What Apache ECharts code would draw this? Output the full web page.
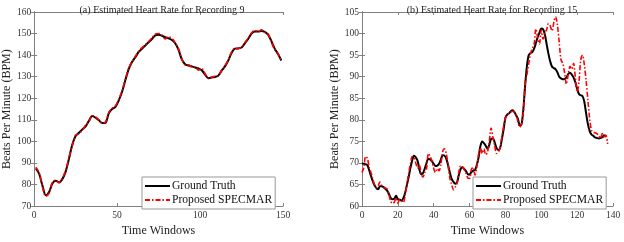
<!DOCTYPE html>
<html>
<head>
<meta charset="utf-8">
<script src="https://cdn.jsdelivr.net/npm/echarts@6/dist/echarts.min.js"></script>
<style>html,body{margin:0;padding:0;background:#fff;}#c{width:624px;height:242px;}</style>
</head>
<body>
<div id="c"></div>
<script>
// ---- Recording 9 (left) ----
const timeA = [1,3,5,7,9,11,13,15,17,19,21,23,25,27,29,31,33,35,37,39,41,43,45,47,49,51,53,55,57,59,61,63,65,67,69,71,73,75,77,79,81,83,85,87,89,91,93,95,97,99,101,103,105,107,109,111,113,115,117,119,121,123,125,127,129,131,133,135,137,139,141,143,145,147,149];
const truthA = [87.5,85,79.5,75,76.5,80.5,81.8,81,82.5,86,92,98.5,102.5,104,105.5,107,109.5,111.8,111,109.8,108.5,108.6,113,115,116,119,123,128.5,133.5,136.8,139,141.5,143,144.5,146,147.5,149.2,149.5,149,148.3,147.8,147,145.5,142.5,138,135.8,135.2,134.8,134.3,133.8,133,131,129.3,129.6,129.9,130.5,132.8,134.8,137.5,141,143,143.1,143.5,145.5,147.5,150,151,151,151.2,150.8,149.5,146.5,143,140.5,137.5];
const estA = [88,85.5,79,74.5,76,81,82,80.8,83,86.5,92.5,98,103,103.5,105.2,107.5,109,112,111.3,110,108.5,109,113.5,115.3,116.5,119.5,123.5,128.8,134,137,139.5,141.8,143.5,144.8,146.3,148,149.8,150,149.3,147.5,148.5,147.8,145.8,143,138.3,135.5,135.5,134.5,134.6,133,133.8,131.5,129.2,129.8,130.2,130.3,133,135,137.8,141.4,143.2,143,143.8,145.8,147.8,150.3,151.5,150.8,151.8,150.6,149.8,146,142.5,140.8,137];

// ---- Recording 15 (right) ----
const truthB = [69.9,69.8,69.7,69.5,68.3,67,65.8,64.8,64.2,63.9,64.6,64.6,64.4,64,63.6,62.8,61.9,61.6,61.7,62.4,61.6,61.5,61.3,61.8,63,64.8,66.7,68.8,70.6,71.7,71.3,70.5,68.5,67.4,67.6,68.7,70,71,70.8,70.4,69.8,69.3,69.4,69.8,70.8,71.8,71.7,71,69.5,67.8,66.3,65.6,65.2,65.5,67.2,68.6,69,68.6,68.1,67.4,67.3,67.9,68.2,68.3,69.5,71.2,73.8,75,74.6,74,73.3,74.2,75.6,75.7,74.8,73.5,73,73.4,75.5,77.8,80.5,81.2,81.5,82,82.2,81.8,81,80.2,78.7,79,82.5,88,92.5,95,95.5,95.7,96.5,97.8,99.2,100.2,101.2,101,99.8,97.5,95.3,93.5,92.3,92,91.7,91,90,89.6,89.4,89.5,89.8,90.6,90.9,90.5,89.8,88.7,87.2,86,85.7,85.5,84.2,81.5,79,77.4,76.6,76.3,75.9,75.8,75.7,75.8,76,76.4,76.1];
const estB = [67.8,68.9,71.5,71.1,69,67.8,66.3,65,64.3,64.7,65.6,64.8,64.4,64.2,64,62.8,61.1,60.6,60.9,61.9,60.7,61.5,61.3,60.8,62.3,65,67.5,69.8,71.5,71.2,70,68.8,69.5,67.5,66.7,67.8,68.7,72.2,71.5,70.5,68.7,67.8,68.7,68.2,69.7,72.6,73.3,72.2,69.5,66.5,65,63.8,64.4,65.2,67.8,69.3,69.2,68.5,67.6,66.5,66.4,68.5,69,67.2,69,72,73.5,72.2,73.3,71.9,72.5,75,78.1,76,74.1,72.2,72.5,73.5,76,78.5,80.5,81,81.5,81.8,82,81.8,81.2,79.5,78.3,79,82,88.3,90.5,93,95.4,96.5,97.5,101.1,99.1,97.6,100.8,98.7,100.2,100.9,102.3,101.8,100.6,102.6,103.9,102,98,93.9,93.1,90.9,88.3,90.5,92.4,91.7,93.1,89.8,86.5,88.7,93.9,95,92.8,89.1,84.6,80.2,77.6,77.1,77,76.8,76.4,75.7,76.8,75.7,76.5,74.4];

const yTicksA = {min:70, max:160, interval:10};
const xTicksA = {min:0, max:150, interval:50};
const yTicksB = {min:60, max:105, interval:5};
const xTicksB = {min:0, max:140, interval:20};

const FONT = 'Liberation Serif';
const pairs = (xs, ys) => ys.map((v, i) => [xs[i], v]);
const idx = (ys) => ys.map((v, i) => [i, v]);

const axisLine = {show:true, lineStyle:{color:'#808080', width:1}};
const tick = {show:true, inside:true, length:3, lineStyle:{color:'#808080'}};
const lbl = {color:'#333', fontFamily:FONT, fontSize:9.5};

function xAx(grid, t) {
  return [
    {type:'value', gridIndex:grid, position:'bottom', min:t.min, max:t.max, interval:t.interval,
     axisLine, axisTick:tick, axisLabel:Object.assign({margin:4}, lbl), splitLine:{show:false},
     name:'Time Windows', nameLocation:'middle', nameGap:15,
     nameTextStyle:{fontFamily:FONT, fontSize:12, color:'#222'}},
    {type:'value', gridIndex:grid, position:'top', min:t.min, max:t.max, interval:t.interval,
     axisLine, axisTick:tick, axisLabel:{show:false}, splitLine:{show:false}}
  ];
}
function yAx(grid, t, gap) {
  return [
    {type:'value', gridIndex:grid, position:'left', min:t.min, max:t.max, interval:t.interval,
     axisLine, axisTick:tick, axisLabel:Object.assign({margin:3}, lbl), splitLine:{show:false},
     name:'Beats Per Minute (BPM)', nameLocation:'middle', nameGap:gap,
     nameTextStyle:{fontFamily:FONT, fontSize:12, color:'#222'}},
    {type:'value', gridIndex:grid, position:'right', min:t.min, max:t.max, interval:t.interval,
     axisLine, axisTick:tick, axisLabel:{show:false}, splitLine:{show:false}}
  ];
}

const truthStyle = {color:'#000', width:2, type:'solid'};
const estStyle = {color:'#ff0000', width:1.6, type:[5,2,1.5,2]};

const legendCommon = {
  orient:'vertical', itemWidth:25, itemHeight:12, itemGap:2,
  backgroundColor:'#fff', borderColor:'#999', borderWidth:1, borderRadius:0,
  padding:[3,3,3,2],
  itemStyle:{color:'rgba(0,0,0,0)', borderColor:'rgba(0,0,0,0)', borderWidth:0},
  textStyle:{fontFamily:FONT, fontSize:11.6, color:'#111', padding:[0,0,0,-3]},
  data:['Ground Truth', 'Proposed SPECMAR']
};

const chart = echarts.init(document.getElementById('c'), null, {renderer:'canvas'});
chart.setOption({
  animation:false,
  backgroundColor:'#fff',
  title:[
    {text:'(a) Estimated Heart Rate for Recording 9', left:157, top:0, textAlign:'center',
     textStyle:{fontFamily:FONT, fontSize:10, fontWeight:'normal', color:'#222'}},
    {text:'(b) Estimated Heart Rate for Recording 15', left:487, top:0, textAlign:'center',
     textStyle:{fontFamily:FONT, fontSize:10, fontWeight:'normal', color:'#222'}}
  ],
  legend:[
    Object.assign({left:142, top:177}, legendCommon),
    Object.assign({left:473, top:177}, legendCommon)
  ],
  grid:[
    {left:31, top:12, width:252, height:202},
    {left:362, top:12, width:251, height:202}
  ],
  xAxis:[...xAx(0, xTicksA), ...xAx(1, xTicksB)],
  yAxis:[...yAx(0, yTicksA, 18), ...yAx(1, yTicksB, 20)],
  series:[
    {name:'Ground Truth', type:'line', xAxisIndex:0, yAxisIndex:0, data:pairs(timeA, truthA),
     showSymbol:false, symbol:'none', smooth:0.3, lineStyle:truthStyle, itemStyle:{color:'#000'}},
    {name:'Proposed SPECMAR', type:'line', xAxisIndex:0, yAxisIndex:0, data:pairs(timeA, estA),
     showSymbol:false, symbol:'none', smooth:0.3, lineStyle:estStyle, itemStyle:{color:'#ff0000'}},
    {name:'Ground Truth', type:'line', xAxisIndex:2, yAxisIndex:2, data:idx(truthB),
     showSymbol:false, symbol:'none', smooth:0.3, lineStyle:truthStyle, itemStyle:{color:'#000'}},
    {name:'Proposed SPECMAR', type:'line', xAxisIndex:2, yAxisIndex:2, data:idx(estB),
     showSymbol:false, symbol:'none', smooth:0.3, lineStyle:estStyle, itemStyle:{color:'#ff0000'}}
  ]
});
</script>
</body>
</html>
